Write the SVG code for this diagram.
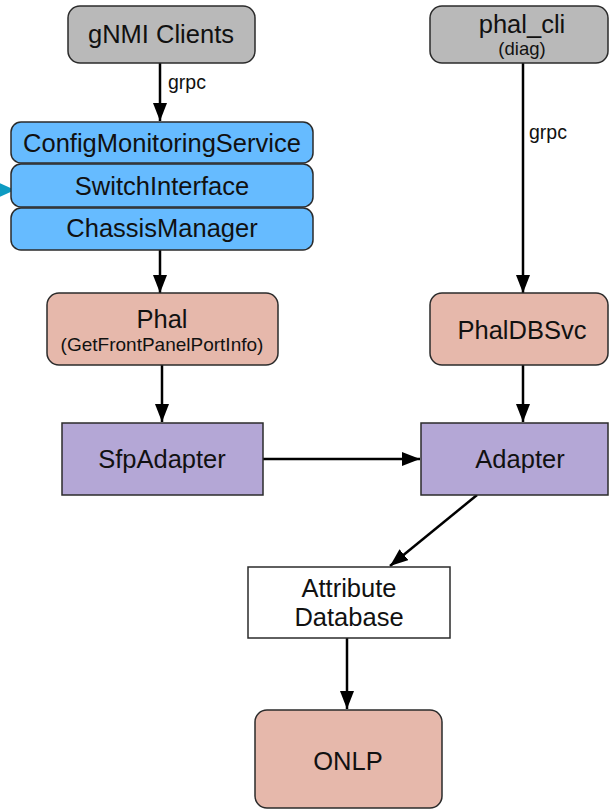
<svg xmlns="http://www.w3.org/2000/svg" width="609" height="810" viewBox="0 0 609 810">
  <style>
    .box { stroke: #2b2b2b; stroke-width: 1.5; }
    .gray { fill: #b9b9b9; }
    .blue { fill: #66bbff; }
    .salmon { fill: #e6b8ab; }
    .purple { fill: #b4a7d6; }
    .white { fill: #ffffff; }
    .lbl { font-family: "Liberation Sans", Arial, Helvetica, sans-serif; font-size: 25.5px; fill: #111; text-anchor: middle; }
    .sub { font-family: "Liberation Sans", Arial, Helvetica, sans-serif; font-size: 19px; fill: #111; text-anchor: middle; }
    .edge { stroke: #000; stroke-width: 2.5; fill: none; marker-end: url(#arrow); }
    .elbl { font-family: "Liberation Sans", Arial, Helvetica, sans-serif; font-size: 19.5px; fill: #111; }
  </style>
  <defs>
    <marker id="arrow" markerUnits="userSpaceOnUse" markerWidth="18" markerHeight="14" refX="18" refY="7" orient="auto">
      <path d="M0,0 L18,7 L0,14 z" fill="#000"/>
    </marker>
    <marker id="arrowCyan" markerUnits="userSpaceOnUse" markerWidth="18" markerHeight="16" refX="18" refY="8" orient="auto">
      <path d="M0,0 L18,8 L0,16 z" fill="#0e9bc2"/>
    </marker>
  </defs>

  <g id="connectors">
    <path class="edge" d="M160,63 L160,121"/>
    <text class="elbl" x="168" y="89">grpc</text>
    <path style="stroke:#0e9bc2;stroke-width:2.5;fill:none;marker-end:url(#arrowCyan)" d="M-30,190 L15,190"/>
    <path class="edge" d="M160,250 L160,293"/>
    <path class="edge" d="M162,365 L162,422"/>
    <path class="edge" d="M263,459 L420,459"/>
    <path class="edge" d="M523,63 L523,293"/>
    <text class="elbl" x="529" y="139">grpc</text>
    <path class="edge" d="M523,365 L523,422"/>
    <path class="edge" d="M477,495 L390,566"/>
    <path class="edge" d="M347,638 L347,709"/>
  </g>

  <g id="gnmi-clients">
    <rect class="box gray" x="68" y="6" width="187" height="57" rx="12"/>
    <text class="lbl" x="161" y="43">gNMI Clients</text>
  </g>

  <g id="phal-cli">
    <rect class="box gray" x="430" y="6" width="178" height="57" rx="12"/>
    <text class="lbl" x="522" y="33">phal_cli</text>
    <text class="sub" x="522" y="55" style="font-size:18.5px">(diag)</text>
  </g>

  <g id="config-monitoring-service">
    <rect class="box blue" x="11" y="122" width="302" height="41" rx="10"/>
    <text class="lbl" x="162" y="152">ConfigMonitoringService</text>
  </g>

  <g id="switch-interface">
    <rect class="box blue" x="11" y="164" width="302" height="43" rx="10"/>
    <text class="lbl" x="162" y="195">SwitchInterface</text>
  </g>

  <g id="chassis-manager">
    <rect class="box blue" x="11" y="208" width="302" height="42" rx="10"/>
    <text class="lbl" x="162" y="237">ChassisManager</text>
  </g>

  <g id="phal">
    <rect class="box salmon" x="47" y="293" width="231" height="72" rx="12"/>
    <text class="lbl" x="162" y="328">Phal</text>
    <text class="sub" x="162" y="351">(GetFrontPanelPortInfo)</text>
  </g>

  <g id="phal-db-svc">
    <rect class="box salmon" x="430" y="293" width="178" height="72" rx="12"/>
    <text class="lbl" x="522" y="339">PhalDBSvc</text>
  </g>

  <g id="sfp-adapter">
    <rect class="box purple" x="62" y="423" width="201" height="72"/>
    <text class="lbl" x="162" y="468">SfpAdapter</text>
  </g>

  <g id="adapter">
    <rect class="box purple" x="421" y="423" width="187" height="72"/>
    <text class="lbl" x="520" y="468">Adapter</text>
  </g>

  <g id="attribute-database">
    <rect class="box white" x="248" y="567" width="202" height="71"/>
    <text class="lbl" x="349" y="597">Attribute</text>
    <text class="lbl" x="349" y="626">Database</text>
  </g>

  <g id="onlp">
    <rect class="box salmon" x="255" y="710" width="187" height="98" rx="12"/>
    <text class="lbl" x="348" y="770">ONLP</text>
  </g>
</svg>
